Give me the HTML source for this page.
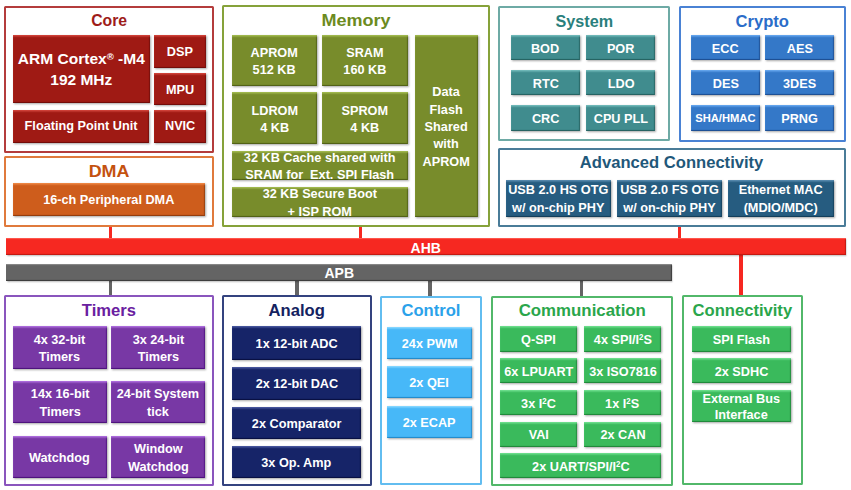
<!DOCTYPE html>
<html><head><meta charset="utf-8"><style>
html,body{margin:0;padding:0;background:#fff;width:851px;height:490px;overflow:hidden;position:relative;font-family:"Liberation Sans", sans-serif}
.bx{position:absolute;box-sizing:border-box;border:2px solid;background:transparent;border-radius:1.5px}
.tt{position:absolute;text-align:center;font-weight:bold;line-height:18px;white-space:nowrap}
.bk{position:absolute;display:flex;align-items:center;justify-content:center;color:#fff;font-weight:bold;text-align:center;white-space:nowrap;background:var(--c);box-shadow:inset 0 2px 1.5px -0.5px var(--h),inset -1.5px -1.5px 1px -0.5px var(--d),0.5px 1px 2px rgba(0,0,0,.35)}
.bk span{position:relative;display:block}
.bk sup{font-size:0.62em;line-height:0;vertical-align:0.45em}
.bus{position:absolute;box-shadow:inset 0 1.5px 1px -0.5px var(--h),inset -1.5px -1.5px 1px -0.5px var(--d),0.5px 1px 1.5px rgba(0,0,0,.3)}
.bus span{position:absolute;color:#fff;font-weight:bold;font-size:14px;line-height:17px}
.red{--c:#9f1a14;--h:#d4463c;--d:#6e0c08}
.org{--c:#ce5d1c;--h:#f08a48;--d:#8e3a0c}
.olv{--c:#788c2b;--h:#a4bc52;--d:#4e5e14}
.tel{--c:#408c8e;--h:#74bcbc;--d:#24605f}
.blu{--c:#3478c8;--h:#68a8f0;--d:#1c4c90}
.adv{--c:#265c80;--h:#5a8cb0;--d:#123c58}
.pur{--c:#7838a5;--h:#b070e0;--d:#4a107a}
.nav{--c:#162468;--h:#4a5aa0;--d:#080f40}
.sky{--c:#47b8f8;--h:#8ad8ff;--d:#2088c8}
.grn{--c:#3aba5c;--h:#70e090;--d:#1e8638}
</style></head>
<body>
<div style="position:absolute;left:109.0px;top:225.0px;width:3.0px;height:14.0px;background:#f62821"></div>
<div style="position:absolute;left:359.0px;top:225.0px;width:3.0px;height:14.0px;background:#f62821"></div>
<div style="position:absolute;left:678.0px;top:225.0px;width:3.0px;height:14.0px;background:#f62821"></div>
<div style="position:absolute;left:739.0px;top:255.0px;width:3.5px;height:42.0px;background:#f62821"></div>
<div style="position:absolute;left:108.5px;top:280.0px;width:3.5px;height:17.0px;background:#646464"></div>
<div style="position:absolute;left:295.0px;top:280.0px;width:3.5px;height:17.0px;background:#646464"></div>
<div style="position:absolute;left:428.0px;top:280.0px;width:3.5px;height:17.0px;background:#646464"></div>
<div style="position:absolute;left:579.5px;top:280.0px;width:3.0px;height:17.0px;background:#646464"></div>
<div class="bx" style="left:4.1px;top:5.5px;width:210.2px;height:147.7px;border-color:#b43c3c"></div>
<div class="tt" style="left:5.1px;width:208.2px;top:12.4px;color:#9e1c1a;font-size:16.6px;transform:scaleX(0.95)">Core</div>
<div class="bx" style="left:4.1px;top:155.7px;width:210.2px;height:71.5px;border-color:#e07a3c"></div>
<div class="tt" style="left:5.1px;width:208.2px;top:162.8px;color:#c4520f;font-size:16.6px;transform:scaleX(1.08)">DMA</div>
<div class="bx" style="left:221.7px;top:5.3px;width:267.9px;height:221.4px;border-color:#86a23a"></div>
<div class="tt" style="left:222.7px;width:265.9px;top:12.2px;color:#6c8b1e;font-size:16.6px;transform:scaleX(1.085)">Memory</div>
<div class="bx" style="left:497.8px;top:5.6px;width:172.5px;height:135.9px;border-color:#6eaaa5"></div>
<div class="tt" style="left:498.8px;width:170.5px;top:12.5px;color:#2a7f7c;font-size:16.6px;transform:scaleX(0.975)">System</div>
<div class="bx" style="left:678.6px;top:5.6px;width:167.3px;height:136.2px;border-color:#4a82d4"></div>
<div class="tt" style="left:679.6px;width:165.3px;top:12.5px;color:#2b6dc9;font-size:16.6px;transform:scaleX(1.0)">Crypto</div>
<div class="bx" style="left:497.6px;top:148.0px;width:348.0px;height:78.6px;border-color:#4a7c98"></div>
<div class="tt" style="left:498.6px;width:346.0px;top:153.6px;color:#1f587a;font-size:16.6px;transform:scaleX(1.0)">Advanced Connectivity</div>
<div class="bx" style="left:3.9px;top:295.3px;width:210.0px;height:190.7px;border-color:#8a55bd"></div>
<div class="tt" style="left:4.9px;width:208.0px;top:302.2px;color:#6a20a0;font-size:16.6px;transform:scaleX(1.0)">Timers</div>
<div class="bx" style="left:221.5px;top:295.2px;width:150.4px;height:191.1px;border-color:#34437f"></div>
<div class="tt" style="left:222.5px;width:148.4px;top:302.1px;color:#142260;font-size:16.6px;transform:scaleX(1.0)">Analog</div>
<div class="bx" style="left:379.5px;top:295.5px;width:102.9px;height:189.8px;border-color:#62bdf0"></div>
<div class="tt" style="left:380.5px;width:100.9px;top:302.4px;color:#2ba2ea;font-size:16.6px;transform:scaleX(1.0)">Control</div>
<div class="bx" style="left:490.5px;top:295.6px;width:182.6px;height:190.1px;border-color:#52b86a"></div>
<div class="tt" style="left:491.5px;width:180.6px;top:301.9px;color:#2aa64b;font-size:16.6px;transform:scaleX(1.015)">Communication</div>
<div class="bx" style="left:681.8px;top:295.3px;width:121.1px;height:190.0px;border-color:#52b86a"></div>
<div class="tt" style="left:682.8px;width:119.1px;top:302.2px;color:#2aa64b;font-size:16.6px;transform:scaleX(1.0)">Connectivity</div>
<div class="bk red" style="left:12.8px;top:34.8px;width:137.0px;height:68.7px"><span style="font-size:14.5px;line-height:20.5px;top:0.5px;transform:scaleX(1.07)">ARM Cortex<sup>®</sup> -M4<br>192 MHz</span></div>
<div class="bk red" style="left:154.3px;top:34.8px;width:51.6px;height:33.0px"><span style="font-size:13.5px;line-height:17.4px;top:0.8px;transform:scaleX(0.94)">DSP</span></div>
<div class="bk red" style="left:154.3px;top:72.5px;width:51.6px;height:32.3px"><span style="font-size:13.5px;line-height:17.4px;top:0.8px;transform:scaleX(0.94)">MPU</span></div>
<div class="bk red" style="left:12.8px;top:110.3px;width:136.7px;height:32.5px"><span style="font-size:13.5px;line-height:17.4px;top:-0.6px;transform:scaleX(0.94)">Floating Point Unit</span></div>
<div class="bk red" style="left:154.3px;top:110.3px;width:51.6px;height:32.5px"><span style="font-size:13.5px;line-height:17.4px;top:-0.6px;transform:scaleX(0.94)">NVIC</span></div>
<div class="bk org" style="left:12.8px;top:183.0px;width:192.7px;height:32.7px"><span style="font-size:13.5px;line-height:17.4px;top:0.8px;transform:scaleX(0.94)">16-ch Peripheral DMA</span></div>
<div class="bk olv" style="left:232.2px;top:35.0px;width:84.8px;height:51.0px"><span style="font-size:13.5px;line-height:17.4px;top:0.8px;transform:scaleX(0.94)">APROM<br>512 KB</span></div>
<div class="bk olv" style="left:322.3px;top:35.0px;width:85.7px;height:51.0px"><span style="font-size:13.5px;line-height:17.4px;top:0.8px;transform:scaleX(0.94)">SRAM<br>160 KB</span></div>
<div class="bk olv" style="left:232.2px;top:92.0px;width:84.8px;height:52.3px"><span style="font-size:13.5px;line-height:17.4px;top:0.8px;transform:scaleX(0.94)">LDROM<br>4 KB</span></div>
<div class="bk olv" style="left:322.3px;top:92.0px;width:85.7px;height:52.3px"><span style="font-size:13.5px;line-height:17.4px;top:0.8px;transform:scaleX(0.94)">SPROM<br>4 KB</span></div>
<div class="bk olv" style="left:232.2px;top:150.9px;width:175.8px;height:29.4px"><span style="font-size:13.5px;line-height:17.4px;top:0.8px;transform:scaleX(0.94)">32 KB Cache shared with<br>SRAM for&nbsp; Ext. SPI Flash</span></div>
<div class="bk olv" style="left:232.2px;top:187.0px;width:175.8px;height:30.0px"><span style="font-size:13.5px;line-height:17.4px;top:0.8px;transform:scaleX(0.94)">32 KB Secure Boot<br>+ ISP ROM</span></div>
<div class="bk olv" style="left:414.5px;top:35.0px;width:63.5px;height:181.8px"><span style="font-size:13.5px;line-height:17.4px;top:0.8px;transform:scaleX(0.94)">Data<br>Flash<br>Shared<br>with<br>APROM</span></div>
<div class="bk tel" style="left:511.0px;top:34.8px;width:68.8px;height:25.4px"><span style="font-size:13.5px;line-height:17.4px;top:0.8px;transform:scaleX(0.94)">BOD</span></div>
<div class="bk tel" style="left:586.4px;top:34.8px;width:68.9px;height:25.4px"><span style="font-size:13.5px;line-height:17.4px;top:0.8px;transform:scaleX(0.94)">POR</span></div>
<div class="bk blu" style="left:691.2px;top:34.8px;width:68.4px;height:25.4px"><span style="font-size:13.5px;line-height:17.4px;top:0.8px;transform:scaleX(0.94)">ECC</span></div>
<div class="bk blu" style="left:765.3px;top:34.8px;width:68.4px;height:25.4px"><span style="font-size:13.5px;line-height:17.4px;top:0.8px;transform:scaleX(0.94)">AES</span></div>
<div class="bk tel" style="left:511.0px;top:70.0px;width:68.8px;height:25.4px"><span style="font-size:13.5px;line-height:17.4px;top:0.8px;transform:scaleX(0.94)">RTC</span></div>
<div class="bk tel" style="left:586.4px;top:70.0px;width:68.9px;height:25.4px"><span style="font-size:13.5px;line-height:17.4px;top:0.8px;transform:scaleX(0.94)">LDO</span></div>
<div class="bk blu" style="left:691.2px;top:70.0px;width:68.4px;height:25.4px"><span style="font-size:13.5px;line-height:17.4px;top:0.8px;transform:scaleX(0.94)">DES</span></div>
<div class="bk blu" style="left:765.3px;top:70.0px;width:68.4px;height:25.4px"><span style="font-size:13.5px;line-height:17.4px;top:0.8px;transform:scaleX(0.94)">3DES</span></div>
<div class="bk tel" style="left:511.0px;top:105.3px;width:68.8px;height:25.4px"><span style="font-size:13.5px;line-height:17.4px;top:0.8px;transform:scaleX(0.94)">CRC</span></div>
<div class="bk tel" style="left:586.4px;top:105.3px;width:68.9px;height:25.4px"><span style="font-size:13.5px;line-height:17.4px;top:0.8px;transform:scaleX(0.94)">CPU PLL</span></div>
<div class="bk blu" style="left:691.2px;top:105.3px;width:68.4px;height:25.4px"><span style="font-size:11.2px;line-height:17.4px;top:0.8px">SHA/HMAC</span></div>
<div class="bk blu" style="left:765.3px;top:105.3px;width:68.4px;height:25.4px"><span style="font-size:13.5px;line-height:17.4px;top:0.8px;transform:scaleX(0.94)">PRNG</span></div>
<div class="bk adv" style="left:505.9px;top:179.8px;width:105.4px;height:37.1px"><span style="font-size:13.5px;line-height:17.6px;top:0.5px;transform:scaleX(0.94)">USB 2.0 HS OTG<br>w/ on-chip PHY</span></div>
<div class="bk adv" style="left:616.8px;top:179.8px;width:105.6px;height:37.1px"><span style="font-size:13.5px;line-height:17.6px;top:0.5px;transform:scaleX(0.94)">USB 2.0 FS OTG<br>w/ on-chip PHY</span></div>
<div class="bk adv" style="left:728.0px;top:179.8px;width:106.0px;height:37.1px"><span style="font-size:13.5px;line-height:17.6px;top:0.5px;transform:scaleX(0.94)">Ethernet MAC<br>(MDIO/MDC)</span></div>
<div class="bus" style="left:6px;top:238.4px;width:839.7px;height:17px;background:#f62821;--h:#ff5a50;--d:#c01810"><span style="left:404.6px;top:1.4px">AHB</span></div>
<div class="bus" style="left:6px;top:264.2px;width:665.9px;height:17.2px;background:#646464;--h:#8a8a8a;--d:#3a3a3a"><span style="left:318.5px;top:1.3px">APB</span></div>
<div class="bk pur" style="left:12.8px;top:326.3px;width:94.0px;height:42.7px"><span style="font-size:13.5px;line-height:17.4px;top:0.8px;transform:scaleX(0.94)">4x 32-bit<br>Timers</span></div>
<div class="bk pur" style="left:111.2px;top:326.3px;width:93.8px;height:42.7px"><span style="font-size:13.5px;line-height:17.4px;top:0.8px;transform:scaleX(0.94)">3x 24-bit<br>Timers</span></div>
<div class="bk pur" style="left:12.8px;top:380.8px;width:94.0px;height:42.2px"><span style="font-size:13.5px;line-height:17.4px;top:0.8px;transform:scaleX(0.94)">14x 16-bit<br>Timers</span></div>
<div class="bk pur" style="left:111.2px;top:380.8px;width:93.8px;height:42.2px"><span style="font-size:13.5px;line-height:17.4px;top:0.8px;transform:scaleX(0.94)">24-bit System<br>tick</span></div>
<div class="bk pur" style="left:12.8px;top:435.6px;width:94.0px;height:42.4px"><span style="font-size:13.5px;line-height:17.4px;top:0.8px;transform:scaleX(0.94)">Watchdog</span></div>
<div class="bk pur" style="left:111.2px;top:435.6px;width:93.8px;height:42.4px"><span style="font-size:13.5px;line-height:17.4px;top:0.8px;transform:scaleX(0.94)">Window<br>Watchdog</span></div>
<div class="bk nav" style="left:232.1px;top:326.4px;width:128.6px;height:33.6px"><span style="font-size:13.5px;line-height:17.4px;top:0.8px;transform:scaleX(0.94)">1x 12-bit ADC</span></div>
<div class="bk nav" style="left:232.1px;top:366.9px;width:128.6px;height:33.6px"><span style="font-size:13.5px;line-height:17.4px;top:-0.2px;transform:scaleX(0.94)">2x 12-bit DAC</span></div>
<div class="bk nav" style="left:232.1px;top:407.2px;width:128.6px;height:32.0px"><span style="font-size:13.5px;line-height:17.4px;top:0.8px;transform:scaleX(0.94)">2x Comparator</span></div>
<div class="bk nav" style="left:232.1px;top:446.0px;width:128.6px;height:32.1px"><span style="font-size:13.5px;line-height:17.4px;top:0.8px;transform:scaleX(0.94)">3x Op. Amp</span></div>
<div class="bk sky" style="left:386.6px;top:326.5px;width:85.7px;height:32.3px"><span style="font-size:13.5px;line-height:17.4px;top:0.8px;transform:scaleX(0.94)">24x PWM</span></div>
<div class="bk sky" style="left:386.6px;top:366.2px;width:85.7px;height:31.8px"><span style="font-size:13.5px;line-height:17.4px;top:0.8px;transform:scaleX(0.94)">2x QEI</span></div>
<div class="bk sky" style="left:386.6px;top:406.0px;width:85.7px;height:32.0px"><span style="font-size:13.5px;line-height:17.4px;top:0.8px;transform:scaleX(0.94)">2x ECAP</span></div>
<div class="bk grn" style="left:500.3px;top:326.4px;width:76.9px;height:25.5px"><span style="font-size:13.5px;line-height:17.4px;top:0.8px;transform:scaleX(0.94)">Q-SPI</span></div>
<div class="bk grn" style="left:584.0px;top:326.4px;width:77.1px;height:25.5px"><span style="font-size:13.5px;line-height:17.4px;top:0.8px;transform:scaleX(0.94)">4x SPI/I<sup>2</sup>S</span></div>
<div class="bk grn" style="left:500.3px;top:358.0px;width:76.9px;height:25.2px"><span style="font-size:13.5px;line-height:17.4px;top:0.8px;transform:scaleX(0.94)">6x LPUART</span></div>
<div class="bk grn" style="left:584.0px;top:358.0px;width:77.1px;height:25.2px"><span style="font-size:13.5px;line-height:17.4px;top:0.8px;transform:scaleX(0.94)">3x ISO7816</span></div>
<div class="bk grn" style="left:500.3px;top:390.1px;width:76.9px;height:25.2px"><span style="font-size:13.5px;line-height:17.4px;top:0.8px;transform:scaleX(0.94)">3x I<sup>2</sup>C</span></div>
<div class="bk grn" style="left:584.0px;top:390.1px;width:77.1px;height:25.2px"><span style="font-size:13.5px;line-height:17.4px;top:0.8px;transform:scaleX(0.94)">1x I<sup>2</sup>S</span></div>
<div class="bk grn" style="left:500.3px;top:421.6px;width:76.9px;height:25.1px"><span style="font-size:13.5px;line-height:17.4px;top:0.8px;transform:scaleX(0.94)">VAI</span></div>
<div class="bk grn" style="left:584.0px;top:421.6px;width:77.1px;height:25.1px"><span style="font-size:13.5px;line-height:17.4px;top:0.8px;transform:scaleX(0.94)">2x CAN</span></div>
<div class="bk grn" style="left:500.3px;top:453.4px;width:160.8px;height:25.0px"><span style="font-size:13.5px;line-height:17.4px;top:0.8px;transform:scaleX(0.94)">2x UART/SPI/I<sup>2</sup>C</span></div>
<div class="bk grn" style="left:691.6px;top:326.0px;width:99.5px;height:25.9px"><span style="font-size:13.5px;line-height:17.4px;top:0.8px;transform:scaleX(0.94)">SPI Flash</span></div>
<div class="bk grn" style="left:691.6px;top:358.3px;width:99.5px;height:25.1px"><span style="font-size:13.5px;line-height:17.4px;top:0.8px;transform:scaleX(0.94)">2x SDHC</span></div>
<div class="bk grn" style="left:691.6px;top:390.0px;width:99.5px;height:32.3px"><span style="font-size:13.5px;line-height:16px;top:0.8px;transform:scaleX(0.94)">External Bus<br>Interface</span></div>
</body></html>
